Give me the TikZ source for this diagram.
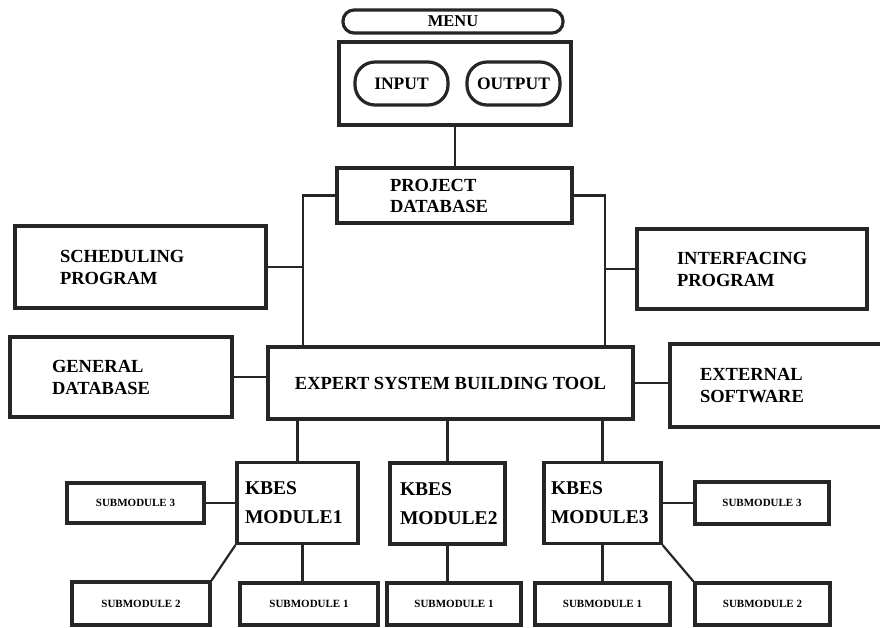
\documentclass[tikz,border=0pt]{standalone}
\usepackage{fontspec}
\setmainfont{Liberation Serif}
\begin{document}
\begin{tikzpicture}[x=1pt,y=-1pt,
  box/.style={draw=black!85, line width=3.2pt, rectangle, inner xsep=0pt, inner ysep=0pt,
    font=\bfseries\fontsize{18.5}{22}\selectfont},
  lbox/.style={box, align=left},
  sub/.style={box, align=center, minimum height=41pt, font=\bfseries\fontsize{11}{13}\selectfont},
  kbes/.style={box, align=left, minimum height=81pt, font=\bfseries\fontsize{19.5}{29}\selectfont},
  pill/.style={draw=black!85, line width=3.2pt, rounded corners=20pt, inner sep=0pt,
    minimum width=93pt, minimum height=43pt, font=\bfseries\fontsize{17.5}{20}\selectfont},
  conn/.style={draw=black!85, line width=2.2pt}]
\useasboundingbox (0,0) rectangle (880,627);
\fill[white] (0,0) rectangle (880,627);

% top
\node[draw=black!85, line width=3.2pt, rounded corners=11pt, inner sep=0pt,
  minimum width=220pt, minimum height=23pt, font=\bfseries\fontsize{16.5}{18}\selectfont]
  (menu) at (453,21.5) {MENU};
\node[box, minimum width=232pt, minimum height=83pt] (menubox) at (455,83.5) {};
\node[pill] (input) at (401.5,83.5) {INPUT};
\node[pill] (output) at (513.5,83.5) {OUTPUT};

\node[lbox, minimum width=235pt, minimum height=55pt, text width=129pt, font=\bfseries\fontsize{18.5}{21}\selectfont]
  (projdb) at (454.5,195.5) {PROJECT\\DATABASE};

\node[lbox, minimum width=251pt, minimum height=82pt, text width=161pt] (sched) at (140.5,267) {SCHEDULING\\PROGRAM};
\node[lbox, minimum width=230pt, minimum height=80pt, text width=150pt] (interf) at (752,269) {INTERFACING\\PROGRAM};

\node[lbox, minimum width=222pt, minimum height=80pt, text width=138pt] (gendb) at (121,377) {GENERAL\\DATABASE};
\node[box, minimum width=365pt, minimum height=72pt] (esbt) at (450.5,383) {EXPERT SYSTEM BUILDING TOOL};
\node[lbox, minimum width=215pt, minimum height=83pt, text width=155pt] (ext) at (777.5,385.5) {EXTERNAL\\SOFTWARE};

% KBES modules
\node[kbes, minimum width=121pt, text width=105pt] (k1) at (297.5,503) {KBES\\MODULE1};
\node[kbes, minimum width=115pt, text width=95pt] (k2) at (447.5,503.5) {KBES\\MODULE2};
\node[kbes, minimum width=117pt, text width=103pt] (k3) at (602.5,503) {KBES\\MODULE3};

% submodules
\node[sub, minimum width=137pt, minimum height=40pt] (s3l) at (135.5,503) {SUBMODULE 3};
\node[sub, minimum width=138pt, minimum height=43pt] (s2l) at (141,603.5) {SUBMODULE 2};
\node[sub, minimum width=138pt, minimum height=42pt] (s1a) at (309,604) {SUBMODULE 1};
\node[sub, minimum width=134pt, minimum height=42pt] (s1b) at (454,604) {SUBMODULE 1};
\node[sub, minimum width=135pt, minimum height=42pt] (s1c) at (602.5,604) {SUBMODULE 1};
\node[sub, minimum width=135pt, minimum height=42pt] (s2r) at (762.5,604) {SUBMODULE 2};
\node[sub, minimum width=134pt, minimum height=42pt] (s3r) at (762,503) {SUBMODULE 3};

% bus coordinates
\coordinate (busL) at (303,0);
\coordinate (busR) at (605,0);

% connectors
\draw[conn] (menubox.south) -- (menubox.south |- projdb.north);
\draw[conn] (projdb.west) -| (busL |- esbt.north);
\draw[conn] (projdb.east) -| (busR |- esbt.north);
\draw[conn] (sched.east) -- (busL |- sched.east);
\draw[conn] (interf.west) -- (busR |- interf.west);
\draw[conn] (gendb.east) -- (gendb.east -| esbt.west);
\draw[conn] (esbt.east) -- (esbt.east -| ext.west);
\draw[conn] (k1.north |- esbt.south) -- (k1.north);
\draw[conn] (k2.north |- esbt.south) -- (k2.north);
\draw[conn] (k3.north |- esbt.south) -- (k3.north);
\draw[conn] (k1.west) -- (k1.west -| s3l.east);
\draw[conn] (k1.south west) -- (s2l.north east);
\draw[conn] ([xshift=5pt]k1.south) -- ([xshift=5pt]k1.south |- s1a.north);
\draw[conn] (k2.south) -- (k2.south |- s1b.north);
\draw[conn] (k3.south) -- (k3.south |- s1c.north);
\draw[conn] (k3.south east) -- (s2r.north west);
\draw[conn] (k3.east) -- (k3.east -| s3r.west);
\end{tikzpicture}
\end{document}
